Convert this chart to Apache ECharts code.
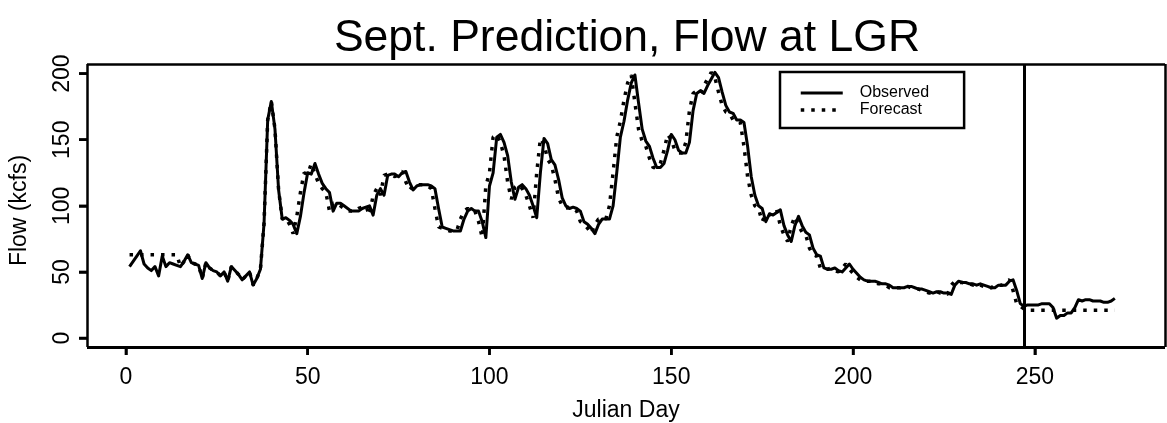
<!DOCTYPE html>
<html>
<head>
<meta charset="utf-8">
<script src="https://cdn.jsdelivr.net/npm/echarts@6/dist/echarts.min.js"></script>
<style>
html,body{margin:0;padding:0;background:#fff;}
#chart{width:1167px;height:423px;}
</style>
</head>
<body>
<div id="chart"></div>
<script>
// Julian days 1..272
const observed = [
  54,58,62,66,56,53,51,54,47,62,
  54,57,56,55,54,58,63,57,56,55,
  45,57,53,51,50,47,50,43,54,51,
  48,44,47,50,40,45,52,87,165,179,
  158,112,90,91,89,86,79,92,110,125,
  124,132,124,117,113,110,96,102,102,100,
  98,96,96,96,98,99,100,93,108,113,
  108,123,124,124,122,125,126,118,112,115,
  116,116,116,115,113,98,84,83,82,81,
  81,81,90,96,98,96,96,88,76,115,
  125,152,154,148,138,118,105,114,116,113,
  108,100,91,125,151,147,135,131,120,106,
  100,98,99,98,96,88,86,83,79,86,
  90,90,90,100,125,152,164,180,193,199,
  178,158,149,145,136,129,129,132,142,154,
  150,142,140,140,148,172,185,187,185,191,
  196,201,197,186,176,171,170,165,165,163,
  145,122,108,100,98,88,94,93,95,97,
  85,78,73,85,92,85,80,78,68,63,
  62,53,52,52,53,51,50,53,56,52,
  49,46,44,43,43,43,42,41,41,40,
  38,38,38,38,39,39,38,37,37,36,
  35,34,35,35,34,34,33,40,43,42,
  42,41,41,40,41,40,39,38,38,40,
  40,40,43,44,36,26,24,25,25,25,
  25,26,26,26,23,15,17,17,19,19,
  23,29,28,29,29,28,28,28,27,27,28,30
];
const forecast = [
  63,63,63,63,63,63,63,63,63,63,
  63,63,63,63,54,58,63,57,56,55,
  45,57,53,51,50,47,50,43,54,51,
  48,44,47,50,40,45,52,87,165,179,
  158,112,90,91,86,79,92,110,125,124,
  132,124,117,113,110,96,102,102,100,98,
  96,96,96,98,99,100,93,108,113,108,
  123,124,124,122,125,126,118,112,115,116,
  116,116,115,113,98,84,83,82,81,81,
  81,90,96,98,96,96,88,76,115,125,
  152,154,148,138,118,105,114,116,113,108,
  100,91,125,151,147,135,131,120,106,100,
  98,99,98,96,88,86,83,79,86,90,
  90,90,100,125,152,164,180,193,199,178,
  158,149,145,136,129,129,132,142,154,150,
  142,140,140,148,172,185,187,185,191,196,
  201,197,186,176,171,170,165,165,163,145,
  122,108,100,98,88,94,93,95,97,85,
  78,73,85,92,85,80,78,68,63,62,
  53,52,52,53,51,50,53,56,52,49,
  46,44,43,43,43,42,41,41,40,38,
  38,38,38,39,39,38,37,37,36,35,
  34,35,35,34,34,33,40,43,42,42,
  41,41,40,41,40,39,38,38,40,40,
  40,43,44,36,26,24,22,21,21,21,
  21,21,21,21,21,21,21,21,21,21,
  21,21,21,21,21,21,21,21,21,21,21,21
];
const xTicks = [0, 50, 100, 150, 200, 250];
const yTicks = [0, 50, 100, 150, 200];
const splitDay = 247;

// plot box (data units) and the outer axis range that leaves room for the tick marks
const BOX_X = [-10.7, 285.8], BOX_Y = [-6.8, 207.3];
const AXIS_X_MIN = -13.45, AXIS_Y_MIN = -14.37;
const TICK_DX = 2.2, TICK_DY = 6.05;
const FONT = 'Liberation Sans';
const obsData = observed.map((v, i) => [i + 1, v]);
const fcData = forecast.map((v, i) => [i + 1, v]);

const thin = {color: '#000', width: 2.5, type: 'solid'};
const seg = (a, b, style) => [{coord: a, lineStyle: style}, {coord: b}];
const frameLines = [
  seg([BOX_X[0], BOX_Y[0]], [BOX_X[1], BOX_Y[0]], {color: '#000', width: 3, type: 'solid'}),
  seg([BOX_X[0], BOX_Y[1]], [BOX_X[1], BOX_Y[1]], thin),
  seg([BOX_X[0], BOX_Y[0]], [BOX_X[0], BOX_Y[1]], thin),
  seg([BOX_X[1], BOX_Y[0]], [BOX_X[1], BOX_Y[1]], thin),
  seg([splitDay, BOX_Y[0]], [splitDay, BOX_Y[1]], {color: '#000', width: 3, type: 'solid'})
];
const tickLines = xTicks.map(v => seg([v, BOX_Y[0]], [v, BOX_Y[0] - TICK_DY], thin))
  .concat(yTicks.map(v => seg([BOX_X[0], v], [BOX_X[0] - TICK_DX, v], thin)));

const chart = echarts.init(document.getElementById('chart'), null, {renderer: 'canvas'});
chart.setOption({
  animation: false,
  backgroundColor: '#fff',
  title: {
    text: 'Sept. Prediction, Flow at LGR',
    left: 622, top: 11, textAlign: 'center',
    textStyle: {fontFamily: FONT, fontSize: 44.5, fontWeight: 'normal', color: '#000'}
  },
  grid: {
    left: 77, right: 2, top: 64, bottom: 66,
    outerBoundsMode: 'none', containLabel: false,
    show: false
  },
  legend: {
    left: 780, top: 72, orient: 'vertical',
    itemWidth: 42, itemHeight: 12, itemGap: 1,
    padding: [13, 35, 10, 19],
    borderColor: '#000', borderWidth: 2.5,
    itemStyle: {color: 'transparent', borderColor: 'transparent', borderWidth: 0},
    textStyle: {fontFamily: FONT, fontSize: 16, lineHeight: 15, color: '#000', padding: [0, 0, 0, 12]},
    data: [
      {name: 'Observed', lineStyle: {color: '#000', width: 3, type: 'solid'}},
      {name: 'Forecast', lineStyle: {color: '#000', width: 3.5, type: [3.5, 7]}}
    ]
  },
  xAxis: {
    type: 'value', min: AXIS_X_MIN, max: BOX_X[1],
    name: 'Julian Day', nameLocation: 'middle', nameGap: 42,
    nameTextStyle: {fontFamily: FONT, fontSize: 23, color: '#000', padding: [0, 0, 0, 10]},
    axisLine: {show: false, onZero: false},
    splitLine: {show: false},
    axisTick: {show: false},
    axisLabel: {customValues: xTicks, margin: 9, fontFamily: FONT, fontSize: 23, color: '#000'}
  },
  yAxis: {
    type: 'value', min: AXIS_Y_MIN, max: BOX_Y[1],
    name: 'Flow (kcfs)', nameLocation: 'middle', nameGap: 46, nameRotate: 90,
    nameTextStyle: {fontFamily: FONT, fontSize: 23, color: '#000'},
    axisLine: {show: false, onZero: false},
    splitLine: {show: false},
    axisTick: {show: false},
    axisLabel: {customValues: yTicks, rotate: 90, margin: 3, fontFamily: FONT, fontSize: 23, color: '#000'}
  },
  series: [
    {
      name: 'Observed', type: 'line', data: obsData,
      showSymbol: false, symbol: 'none', z: 3,
      lineStyle: {color: '#000', width: 3, join: 'round'},
      itemStyle: {color: '#000'},
      markLine: {
        silent: true, symbol: ['none', 'none'], label: {show: false},
        lineStyle: {color: '#000', width: 2.5, type: 'solid'},
        data: frameLines.concat(tickLines)
      }
    },
    {
      name: 'Forecast', type: 'line', data: fcData,
      showSymbol: false, symbol: 'none', z: 2,
      lineStyle: {color: '#000', width: 3.5, type: [3.5, 7]},
      itemStyle: {color: '#000'}
    },
    {
      name: 'xTickMarks', type: 'scatter', silent: true, z: 6,
      data: xTicks.map(v => [v, BOX_Y[0]]),
      symbol: 'rect', symbolSize: [2.5, 8], symbolOffset: [0, 4],
      itemStyle: {color: '#000', opacity: 1}
    },
    {
      name: 'yTickMarks', type: 'scatter', silent: true, z: 6,
      data: yTicks.map(v => [BOX_X[0], v]),
      symbol: 'rect', symbolSize: [8, 2.5], symbolOffset: [-4, 0],
      itemStyle: {color: '#000', opacity: 1}
    }
  ]
});
</script>
</body>
</html>
